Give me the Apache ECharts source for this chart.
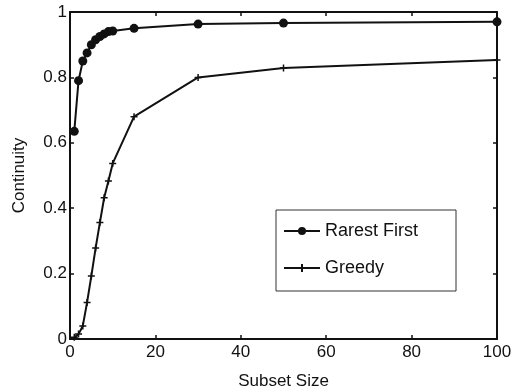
<!DOCTYPE html>
<head>
    <meta charset="utf-8">
    <title>Continuity</title>
    <script src="https://cdn.jsdelivr.net/npm/echarts@6/dist/echarts.min.js"></script>
    <style>
      html,body{ margin:0; padding:0; background:#fff; }
    </style>
</head>
<body>
    <div id="main" style="width:513px;height:392px"></div>
    <script>
    // data
    var sizes = [1, 2, 3, 4, 5, 6, 7, 8, 9, 10, 15, 30, 50, 100];
    var rarestFirst = [0.635, 0.79, 0.85, 0.875, 0.9, 0.915, 0.925, 0.933, 0.94, 0.942, 0.95, 0.963, 0.966, 0.97];
    var greedy = [0.005, 0.015, 0.04, 0.112, 0.193, 0.278, 0.356, 0.432, 0.483, 0.537, 0.68, 0.8, 0.829, 0.853];
    var xTicks = [0, 20, 40, 60, 80, 100];
    var yTicks = [0, 0.2, 0.4, 0.6, 0.8, 1];

    function pairs(xs, ys) {
        var out = [];
        for (var i = 0; i < xs.length; i++) out.push([xs[i], ys[i]]);
        return out;
    }

    var font = 'Liberation Sans, Arial, sans-serif';
    var lineStyle = { color: '#111', width: 2 };
    var plusPath = 'path://M5,0 L5,10 M0,5 L10,5';

    var baseAxis = {
        type: 'value',
        axisLine: { show: true, onZero: false, lineStyle: lineStyle },
        axisTick: { show: true, inside: true, length: 4, lineStyle: { color: '#111', width: 1.5 } },
        splitLine: { show: false }
    };
    var label = { color: '#111', fontFamily: font, fontSize: 17 };

    var option = {
        backgroundColor: '#fff',
        animation: false,
        grid: { left: 70, right: 16, top: 12, bottom: 53, outerBoundsMode: 'none' },
        legend: {
            orient: 'vertical',
            left: 276, top: 210,
            padding: [12, 38, 14, 7],
            itemGap: 19,
            itemWidth: 36, itemHeight: 10,
            borderColor: '#333', borderWidth: 1,
            backgroundColor: '#fff',
            textStyle: { color: '#111', fontFamily: font, fontSize: 18 },
            data: ['Rarest First', 'Greedy']
        },
        xAxis: [
            Object.assign({}, baseAxis, {
                position: 'bottom', min: 0, max: 100, interval: 20,
                name: 'Subset Size', nameLocation: 'middle', nameGap: 34,
                nameTextStyle: label,
                axisLabel: Object.assign({ margin: 5, formatter: function (v) { return xTicks.indexOf(v) >= 0 ? String(v) : ''; } }, label)
            }),
            Object.assign({}, baseAxis, {
                position: 'top', min: 0, max: 100, interval: 20,
                axisLabel: { show: false }
            })
        ],
        yAxis: [
            Object.assign({}, baseAxis, {
                position: 'left', min: 0, max: 1, interval: 0.2,
                name: 'Continuity', nameLocation: 'middle', nameGap: 42,
                nameTextStyle: label,
                axisLabel: Object.assign({ margin: 3, formatter: function (v) {
                    var r = Math.round(v * 10) / 10;
                    return yTicks.indexOf(r) >= 0 ? String(r) : '';
                } }, label)
            }),
            Object.assign({}, baseAxis, {
                position: 'right', min: 0, max: 1, interval: 0.2,
                axisLabel: { show: false }
            })
        ],
        series: [{
            name: 'Rarest First', type: 'line',
            data: pairs(sizes, rarestFirst),
            symbol: 'circle', symbolSize: 9,
            itemStyle: { color: '#111' },
            lineStyle: lineStyle
        }, {
            name: 'Greedy', type: 'line',
            data: pairs(sizes, greedy),
            symbol: plusPath, symbolSize: 7,
            itemStyle: { color: '#111', borderColor: '#111', borderWidth: 1.5 },
            lineStyle: lineStyle
        }]
    };
    var chart = echarts.init(document.getElementById('main'));
    chart.setOption(option);
    </script>
</body>
